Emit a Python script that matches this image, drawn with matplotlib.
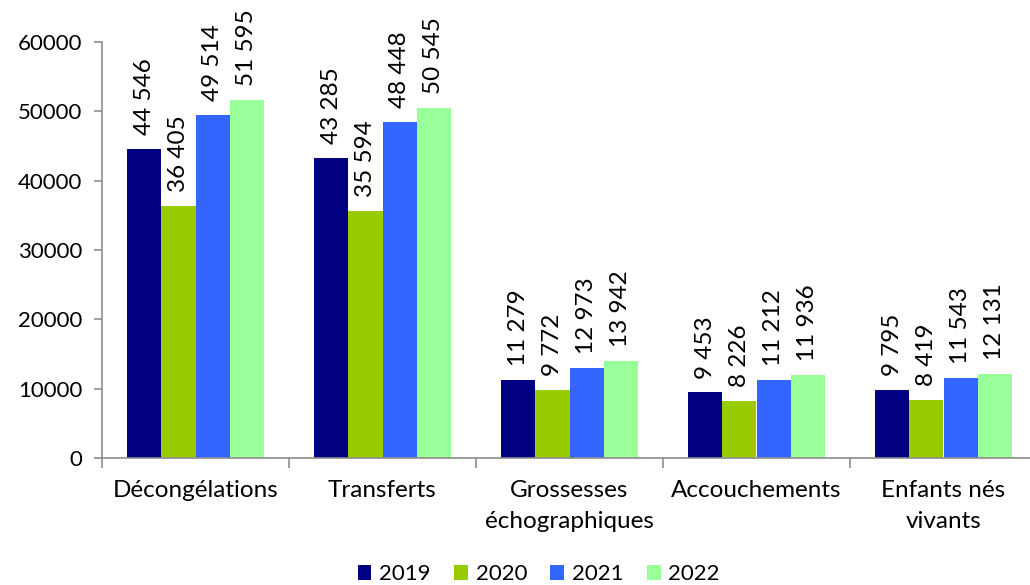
import matplotlib
matplotlib.use("Agg")
import matplotlib.pyplot as plt
import numpy as np

categories = ["Décongélations", "Transferts", "Grossesses\néchographiques",
              "Accouchements", "Enfants nés\nvivants"]
years = ["2019", "2020", "2021", "2022"]
values = {
    "2019": [44546, 43285, 11279, 9453, 9795],
    "2020": [36405, 35594, 9772, 8226, 8419],
    "2021": [49514, 48448, 12973, 11212, 11543],
    "2022": [51595, 50545, 13942, 11936, 12131],
}
colors = ["#000080", "#99CC00", "#3366FF", "#99FF99"]

plt.rcParams["font.family"] = ["Lato", "DejaVu Sans"]

fig = plt.figure(figsize=(10.30, 5.85), dpi=100)
ax = fig.add_axes([102 / 1030, 1 - 458 / 585, 935 / 1030, 416 / 585])

x = np.arange(len(categories))
bw = 0.182
axis_grey = "#8c8c8c"

def fmt(v):
    return f"{v:,}".replace(",", " ")

for i, (yr, col) in enumerate(zip(years, colors)):
    pos = x + (i - 1.5) * bw
    bars = ax.bar(pos, values[yr], width=bw, color=col, label=yr, zorder=2)
    for b, v in zip(bars, values[yr]):
        ax.annotate(fmt(v), (b.get_x() + b.get_width() / 2, v),
                    xytext=(0, 10), textcoords="offset points",
                    rotation=90, ha="center", va="bottom", fontsize=17.5)

ax.set_xlim(-0.5, len(categories) - 0.5)
ax.set_ylim(0, 60000)
ax.set_yticks(range(0, 60001, 10000))
ax.tick_params(axis="y", labelsize=16, length=6, color=axis_grey, width=1.2, pad=8)

ax.set_xticks(x)
ax.set_xticklabels(categories, fontsize=17.5, linespacing=1.55)
ax.tick_params(axis="x", which="major", length=0, pad=16)
ax.set_xticks(np.arange(-0.5, len(categories) - 0.5, 1.0), minor=True)
ax.tick_params(axis="x", which="minor", length=7, color=axis_grey, width=1.2)

for s in ("top", "right"):
    ax.spines[s].set_visible(False)
for s in ("left", "bottom"):
    ax.spines[s].set_color(axis_grey)
    ax.spines[s].set_linewidth(1.2)

ax.legend(loc="lower center", bbox_to_anchor=(0.523, -0.033),
          bbox_transform=fig.transFigure, ncol=4, frameon=False,
          fontsize=16, handlelength=0.62, handleheight=0.62,
          handletextpad=0.35, columnspacing=1.05)

fig.savefig("out.png", dpi=100)
